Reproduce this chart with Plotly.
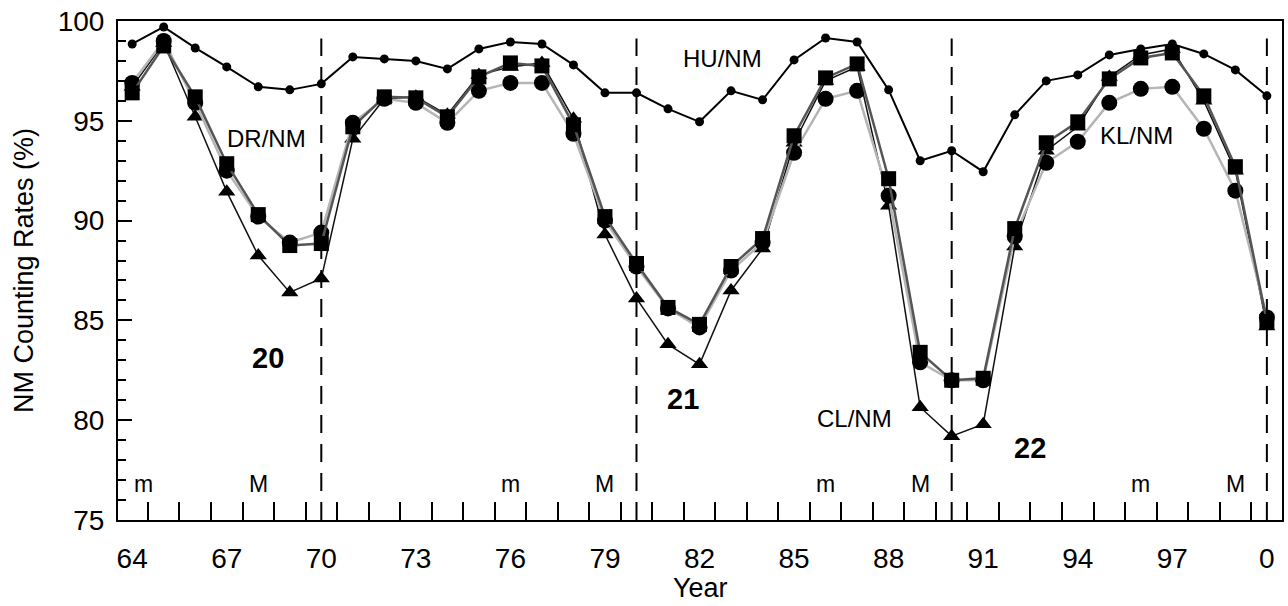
import plotly.graph_objects as go
import numpy as np

years = list(range(1964, 2001))

hu_nm = [98.85, 99.7, 98.65, 97.7, 96.7, 96.55, 96.85, 98.2, 98.1, 98.0, 97.6, 98.6, 98.95,
         98.85, 97.8, 96.4, 96.4, 95.6, 94.95, 96.5, 96.05, 98.05, 99.15, 98.95, 96.55, 93.0,
         93.5, 92.45, 95.3, 97.0, 97.3, 98.3, 98.6, 98.85, 98.35, 97.55, 96.25]
dr_nm = [96.4, 98.75, 96.2, 92.85, 90.3, 88.75, 88.85, 94.7, 96.2, 96.15, 95.2, 97.2, 97.9,
         97.75, 94.8, 90.2, 87.85, 85.65, 84.8, 87.7, 89.1, 94.25, 97.15, 97.85, 92.1, 83.4,
         82.0, 82.1, 89.6, 93.9, 94.95, 97.1, 98.15, 98.4, 96.25, 92.7, 84.95]
kl_nm = [96.9, 99.0, 95.9, 92.5, 90.2, 88.9, 89.4, 94.9, 96.1, 95.9, 94.9, 96.5, 96.9,
         96.9, 94.35, 90.0, 87.7, 85.6, 84.65, 87.5, 88.9, 93.4, 96.1, 96.5, 91.25, 82.9,
         82.0, 82.0, 89.2, 92.9, 93.95, 95.9, 96.6, 96.7, 94.6, 91.5, 85.15]
cl_nm = [96.7, 98.9, 95.2, 91.45, 88.25, 86.4, 87.1, 94.1, 96.1, 96.2, 95.3, 97.3, 97.7,
         97.9, 95.1, 89.3, 86.1, 83.8, 82.8, 86.5, 88.6, 93.9, 97.0, 97.7, 90.75, 80.65,
         79.2, 79.8, 88.7, 93.5, 94.7, 97.2, 98.3, 98.6, 96.0, 92.5, 84.7]

tick_years = [1964, 1967, 1970, 1973, 1976, 1979, 1982, 1985, 1988, 1991, 1994, 1997, 2000]
tick_labels = ["64", "67", "70", "73", "76", "79", "82", "85", "88", "91", "94", "97", "0"]

cycle_boundaries = [1970, 1980, 1990, 2000]
solar_min_years = [1964.35, 1976, 1986, 1996]
solar_max_years = [1968, 1979, 1989, 1999]

FONT = "Liberation Sans, Arial, Helvetica, sans-serif"

fig = go.Figure()

fig.add_trace(go.Scatter(x=years, y=cl_nm, mode="lines+markers",
                         line=dict(color="#111111", width=1.5),
                         marker=dict(symbol="triangle-up", size=15, color="black"),
                         name="CL/NM"))
fig.add_trace(go.Scatter(x=years, y=kl_nm, mode="lines+markers",
                         line=dict(color="#b5b5b5", width=2.5),
                         marker=dict(symbol="circle", size=16, color="black"),
                         name="KL/NM"))
fig.add_trace(go.Scatter(x=years, y=dr_nm, mode="lines+markers",
                         line=dict(color="#555555", width=2.5),
                         marker=dict(symbol="square", size=15, color="black"),
                         name="DR/NM"))
fig.add_trace(go.Scatter(x=years, y=hu_nm, mode="lines+markers",
                         line=dict(color="black", width=2),
                         marker=dict(symbol="circle", size=9, color="black"),
                         name="HU/NM"))

for xb in cycle_boundaries:
    fig.add_shape(type="line", x0=xb, x1=xb, xref="x", yref="paper", y0=0, y1=0.965,
                  line=dict(color="black", width=2, dash="18px,11px"))

for xm in solar_min_years:
    fig.add_annotation(x=xm, y=76.8, text="m", showarrow=False,
                       font=dict(family=FONT, size=23, color="black"))
for xM in solar_max_years:
    fig.add_annotation(x=xM, y=76.8, text="M", showarrow=False,
                       font=dict(family=FONT, size=23, color="black"))

labels = [("DR/NM", 1968.25, 94.1), ("HU/NM", 1982.74, 98.1), ("KL/NM", 1995.87, 94.28),
          ("CL/NM", 1986.93, 80.07)]
for txt, lx, ly in labels:
    fig.add_annotation(x=lx, y=ly, text=txt, showarrow=False,
                       font=dict(family=FONT, size=24, color="black"))

cycles = [("20", 1968.3, 83.13), ("21", 1981.46, 81.07), ("22", 1992.5, 78.6)]
for txt, lx, ly in cycles:
    fig.add_annotation(x=lx, y=ly, text="<b>" + txt + "</b>", showarrow=False,
                       font=dict(family=FONT, size=29, color="black"))

fig.add_annotation(text="Year", xref="paper", yref="paper", x=0.5, y=-0.137,
                   showarrow=False, yanchor="middle",
                   font=dict(family=FONT, size=27, color="black"))

fig.update_layout(
    width=1288, height=606,
    margin=dict(l=118, r=6, t=21, b=86),
    paper_bgcolor="white", plot_bgcolor="white",
    showlegend=False,
    font=dict(family=FONT, color="black"),
)

fig.update_xaxes(
    range=[1963.55, 2000.48],
    automargin=False,
    tickmode="array", tickvals=tick_years, ticktext=tick_labels,
    ticks="", ticklen=0,
    tickfont=dict(family=FONT, size=28),
    ticklabelstandoff=12,
    showgrid=False, zeroline=False,
    showline=True, linecolor="black", linewidth=2, mirror=True,
    minor=dict(tickmode="array", tickvals=list(np.arange(1964.5, 2000, 1.0)),
               ticks="inside", ticklen=18, tickwidth=1.5, tickcolor="black", showgrid=False),
)

fig.update_yaxes(
    range=[75, 100],
    automargin=False,
    tickmode="linear", tick0=75, dtick=5,
    ticks="inside", ticklen=14, tickwidth=1.5, tickcolor="black",
    tickfont=dict(family=FONT, size=28),
    ticklabelstandoff=6,
    showgrid=False, zeroline=False,
    showline=True, linecolor="black", linewidth=2, mirror=True,
    minor=dict(tick0=75, dtick=1, ticks="inside", ticklen=8, tickwidth=1.5,
               tickcolor="black", showgrid=False),
    title=dict(text="NM Counting Rates (%)", font=dict(family=FONT, size=27), standoff=16),
)

fig.write_html("out.html", config={"displayModeBar": False},
               post_script="document.body.style.margin='0';document.body.style.overflow='hidden';")
